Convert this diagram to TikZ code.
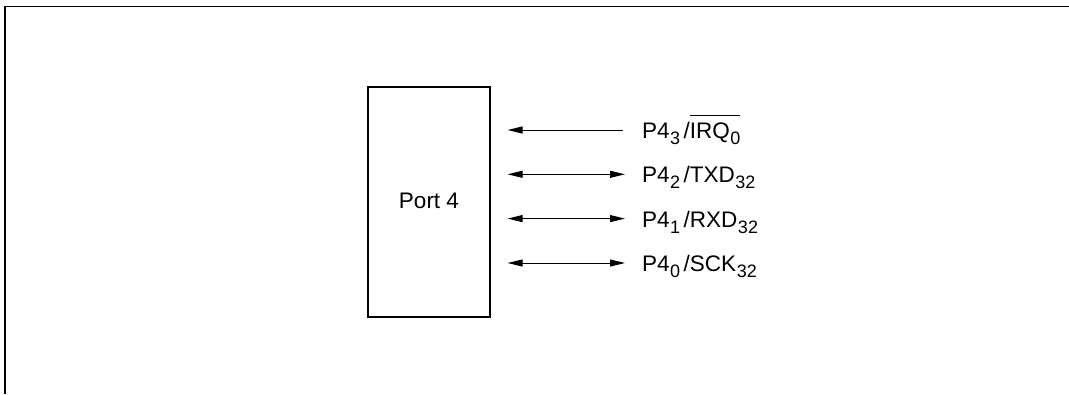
\documentclass[tikz,border=0pt]{standalone}
\usepackage{fontspec}
\setmainfont{Liberation Sans}
\usetikzlibrary{arrows.meta}
\newcommand\sbs[1]{\hspace{0.5pt}\raisebox{-6pt}{\fontsize{18}{18}\selectfont #1}}
\newcommand\ovl[1]{\setbox0\hbox{#1}\rlap{\rule[\dimexpr\ht0+7pt\relax]{\wd0}{1pt}}\box0}
\tikzset{
  frame/.style={line width=1.3pt},
  portbox/.style={draw, line width=1.2pt, minimum width=122pt, minimum height=230pt, inner sep=0pt, font=\fontsize{22.5}{26}\selectfont},
  sig/.style={anchor=base west, inner sep=0pt, font=\fontsize{22.5}{26}\selectfont},
  arr/.style={line width=1pt, shorten <=17pt, arrows={Triangle[length=15pt,width=7pt]-Triangle[length=15pt,width=7pt]}},
  arrin/.style={line width=1pt, shorten <=17pt, arrows={Triangle[length=15pt,width=7pt]-}}
}
\begin{document}
\begin{tikzpicture}[x=1pt,y=-1pt]
\useasboundingbox (0,0) rectangle (1069,394);
\draw[frame] (5,394) -- (5,6.5) -- (1069,6.5);
\node[portbox] (port) at (429,202) {\raisebox{3pt}{Port 4}};
\node[sig] (l3) at (642,138.5) {P4\sbs{3}\hspace{3.5pt}/\ovl{IRQ\sbs{0}}};
\node[sig] (l2) at (642,182.8) {P4\sbs{2}\hspace{3.5pt}/TXD\sbs{32}};
\node[sig] (l1) at (642,227.2) {P4\sbs{1}\hspace{3.5pt}/RXD\sbs{32}};
\node[sig] (l0) at (642,271.5) {P4\sbs{0}\hspace{3.5pt}/SCK\sbs{32}};
\coordinate (e3) at (623,130);
\coordinate (e2) at (625,174.3);
\coordinate (e1) at (625,218.6);
\coordinate (e0) at (625,263);
\draw[arrin] (port.east |- e3) -- (e3);
\draw[arr] (port.east |- e2) -- (e2);
\draw[arr] (port.east |- e1) -- (e1);
\draw[arr] (port.east |- e0) -- (e0);
\end{tikzpicture}
\end{document}
